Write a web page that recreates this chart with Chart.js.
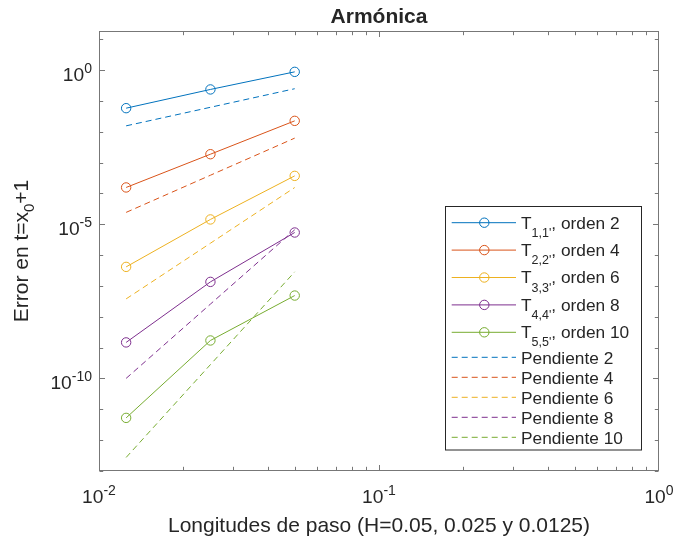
<!DOCTYPE html>
<html>
<head>
<meta charset="utf-8">
<script src="https://cdn.jsdelivr.net/npm/chart.js@4"></script>
<style>
    html, body { margin: 0; padding: 0; background: #fff; }
</style>
</head>
<body>
<canvas id="myChart" width="676" height="542"></canvas>
<script>
const pasos = [0.0125, 0.025, 0.05];

// error de cada metodo T_{k,k}
const errT11 = [5.85e-2, 2.37e-1, 8.81e-1];
const errT22 = [1.57e-4, 1.88e-3, 2.27e-2];
const errT33 = [4.17e-7, 1.44e-5, 3.73e-4];
const errT44 = [1.48e-9, 1.36e-7, 5.43e-6];
const errT55 = [5.28e-12, 1.71e-9, 4.90e-8];

// rectas de referencia
const pend2 = [1.5625e-2, 6.25e-2, 2.5e-1];
const pend4 = [2.44e-5, 3.91e-4, 6.25e-3];
const pend6 = [3.82e-8, 2.44e-6, 1.56e-4];
const pend8 = [1.01e-10, 2.59e-8, 6.64e-6];
const pend10 = [2.75e-13, 2.82e-10, 2.88e-7];

const colores = ['#0072BD', '#D95319', '#EDB120', '#7E2F8E', '#77AC30'];
const nombresT = [['1,1\'', 'orden 2'], ['2,2\'', 'orden 4'], ['3,3\'', 'orden 6'], ['4,4\'', 'orden 8'], ['5,5\'', 'orden 10']];
const nombresP = ['Pendiente 2', 'Pendiente 4', 'Pendiente 6', 'Pendiente 8', 'Pendiente 10'];

const xTicks = [0.01, 0.1, 1];
const xTickLabels = [['10', '-2'], ['10', '-1'], ['10', '0']];
const yTicks = [1e-10, 1e-5, 1];
const yTickLabels = [['10', '-10'], ['10', '-5'], ['10', '0']];

const FONT = '"Liberation Sans", Arial, sans-serif';
const TXT = '#262626';

function puntos(ys) {
    return pasos.map((h, i) => ({x: h, y: ys[i]}));
}

const errores = [errT11, errT22, errT33, errT44, errT55];
const pendientes = [pend2, pend4, pend6, pend8, pend10];

const datasets = [];
errores.forEach((e, i) => {
    datasets.push({
        data: puntos(e),
        borderColor: colores[i],
        borderWidth: 1,
        pointStyle: 'circle',
        pointRadius: 4.7,
        pointBorderWidth: 1,
        pointBorderColor: colores[i],
        pointBackgroundColor: 'rgba(0,0,0,0)',
        tension: 0,
    });
});
pendientes.forEach((p, i) => {
    datasets.push({
        data: puntos(p),
        borderColor: colores[i],
        borderWidth: 1,
        borderDash: [6, 4],
        pointRadius: 0,
        tension: 0,
    });
});

function textoSup(ctx, base, sup, x, y, align, size, supSize) {
    ctx.font = size + 'px ' + FONT;
    const wb = ctx.measureText(base).width;
    ctx.font = supSize + 'px ' + FONT;
    const ws = ctx.measureText(sup).width;
    let x0 = x;
    if (align === 'right') x0 = x - wb - ws;
    if (align === 'center') x0 = x - (wb + ws) / 2;
    ctx.textAlign = 'left';
    ctx.font = size + 'px ' + FONT;
    ctx.fillText(base, x0, y);
    ctx.font = supSize + 'px ' + FONT;
    ctx.fillText(sup, x0 + wb, y - 8.3);
}

const ejesMatlab = {
    id: 'ejesMatlab',
    afterDraw(chart) {
        const ctx = chart.ctx;
        const a = chart.chartArea;
        const xs = chart.scales.x;
        const ys = chart.scales.y;
        ctx.save();

        // caja y marcas
        ctx.strokeStyle = '#777';
        ctx.lineWidth = 1;
        const L = Math.round(a.left) + 0.5, R = Math.round(a.right) - 0.5;
        const T = Math.round(a.top) + 0.5, B = Math.round(a.bottom) - 0.5;
        ctx.strokeRect(L, T, R - L, B - T);

        ctx.beginPath();
        [0.01, 0.1].forEach(d => {
            for (let k = 1; k <= 9; k++) {
                const v = d * k;
                const px = Math.round(xs.getPixelForValue(v)) + 0.5;
                const len = k === 1 ? 5.5 : 3.7;
                ctx.moveTo(px, B); ctx.lineTo(px, B - len);
                ctx.moveTo(px, T); ctx.lineTo(px, T + len);
            }
        });
        for (let e = -13; e <= 1; e++) {
            const py = Math.round(ys.getPixelForValue(Math.pow(10, e))) + 0.5;
            const len = e % 5 === 0 ? 5.5 : 3.7;
            ctx.moveTo(L, py); ctx.lineTo(L + len, py);
            ctx.moveTo(R, py); ctx.lineTo(R - len, py);
        }
        ctx.stroke();

        // etiquetas de los ejes
        ctx.fillStyle = TXT;
        ctx.textBaseline = 'alphabetic';
        yTicks.forEach((v, i) => {
            const py = ys.getPixelForValue(v);
            textoSup(ctx, yTickLabels[i][0], yTickLabels[i][1], a.left - 7, py + 10.7, 'right', 19.2, 14);
        });
        xTicks.forEach((v, i) => {
            const px = xs.getPixelForValue(v);
            textoSup(ctx, xTickLabels[i][0], xTickLabels[i][1], px, 503.3, 'center', 19.2, 14);
        });

        const cx = (a.left + a.right) / 2;
        ctx.textAlign = 'center';
        ctx.font = 'bold 21px ' + FONT;
        ctx.fillText('Armónica', cx, 22.7);
        ctx.font = '21px ' + FONT;
        ctx.fillText('Longitudes de paso (H=0.05, 0.025 y 0.0125)', cx, 531.7);

        // etiqueta y con subindice
        ctx.save();
        ctx.translate(28, (a.top + a.bottom) / 2);
        ctx.rotate(-Math.PI / 2);
        ctx.textAlign = 'left';
        ctx.font = '21px ' + FONT;
        const p1 = 'Error en t=x', p3 = '+1';
        const w1 = ctx.measureText(p1).width, w3 = ctx.measureText(p3).width;
        ctx.font = '15px ' + FONT;
        const w2 = ctx.measureText('0').width;
        let x0 = -(w1 + w2 + w3) / 2;
        ctx.font = '21px ' + FONT;
        ctx.fillText(p1, x0, 0);
        ctx.font = '15px ' + FONT;
        ctx.fillText('0', x0 + w1, 6);
        ctx.font = '21px ' + FONT;
        ctx.fillText(p3, x0 + w1 + w2, 0);
        ctx.restore();

        // leyenda
        ctx.fillStyle = '#fff';
        ctx.fillRect(445.5, 206.5, 196, 243.5);
        ctx.strokeStyle = '#262626';
        ctx.strokeRect(445.5, 206.5, 196, 243.5);
        const filasT = [222.7, 250.1, 277.5, 304.9, 332.3];
        const filasP = [357.3, 377.3, 397.3, 417.3, 437.3];
        ctx.textAlign = 'left';
        filasT.forEach((y, i) => {
            ctx.strokeStyle = colores[i];
            ctx.setLineDash([]);
            ctx.beginPath();
            ctx.moveTo(451.7, y); ctx.lineTo(516, y);
            ctx.stroke();
            ctx.beginPath();
            ctx.arc(484.3, y, 4.7, 0, Math.PI * 2);
            ctx.stroke();
            ctx.fillStyle = TXT;
            ctx.font = '17.3px ' + FONT;
            ctx.fillText('T', 521, y + 5.8);
            const wt = ctx.measureText('T').width;
            ctx.font = '12.5px ' + FONT;
            ctx.fillText(nombresT[i][0], 521 + wt, y + 14);
            const wsub = ctx.measureText(nombresT[i][0]).width;
            ctx.font = '17.3px ' + FONT;
            ctx.fillText(', ' + nombresT[i][1], 521 + wt + wsub, y + 5.8);
        });
        filasP.forEach((y, i) => {
            ctx.strokeStyle = colores[i];
            ctx.setLineDash([6, 4]);
            ctx.beginPath();
            ctx.moveTo(451.7, y); ctx.lineTo(516, y);
            ctx.stroke();
            ctx.setLineDash([]);
            ctx.fillStyle = TXT;
            ctx.font = '17.3px ' + FONT;
            ctx.fillText(nombresP[i], 521, y + 6.2);
        });
        ctx.restore();
    }
};

const config = {
    type: 'line',
    data: {datasets: datasets},
    options: {
        responsive: false,
        animation: false,
        events: [],
        layout: {
            padding: {left: 99, top: 31, right: 17, bottom: 71}
        },
        plugins: {
            legend: {display: false},
            title: {display: false},
            tooltip: {enabled: false}
        },
        scales: {
            x: {
                type: 'logarithmic',
                min: 0.01,
                max: 1,
                display: false
            },
            y: {
                type: 'logarithmic',
                min: 1e-13,
                max: Math.pow(10, 1.27),
                display: false
            }
        }
    },
    plugins: [ejesMatlab]
};

const myChart = new Chart(document.getElementById('myChart'), config);
</script>
</body>
</html>
